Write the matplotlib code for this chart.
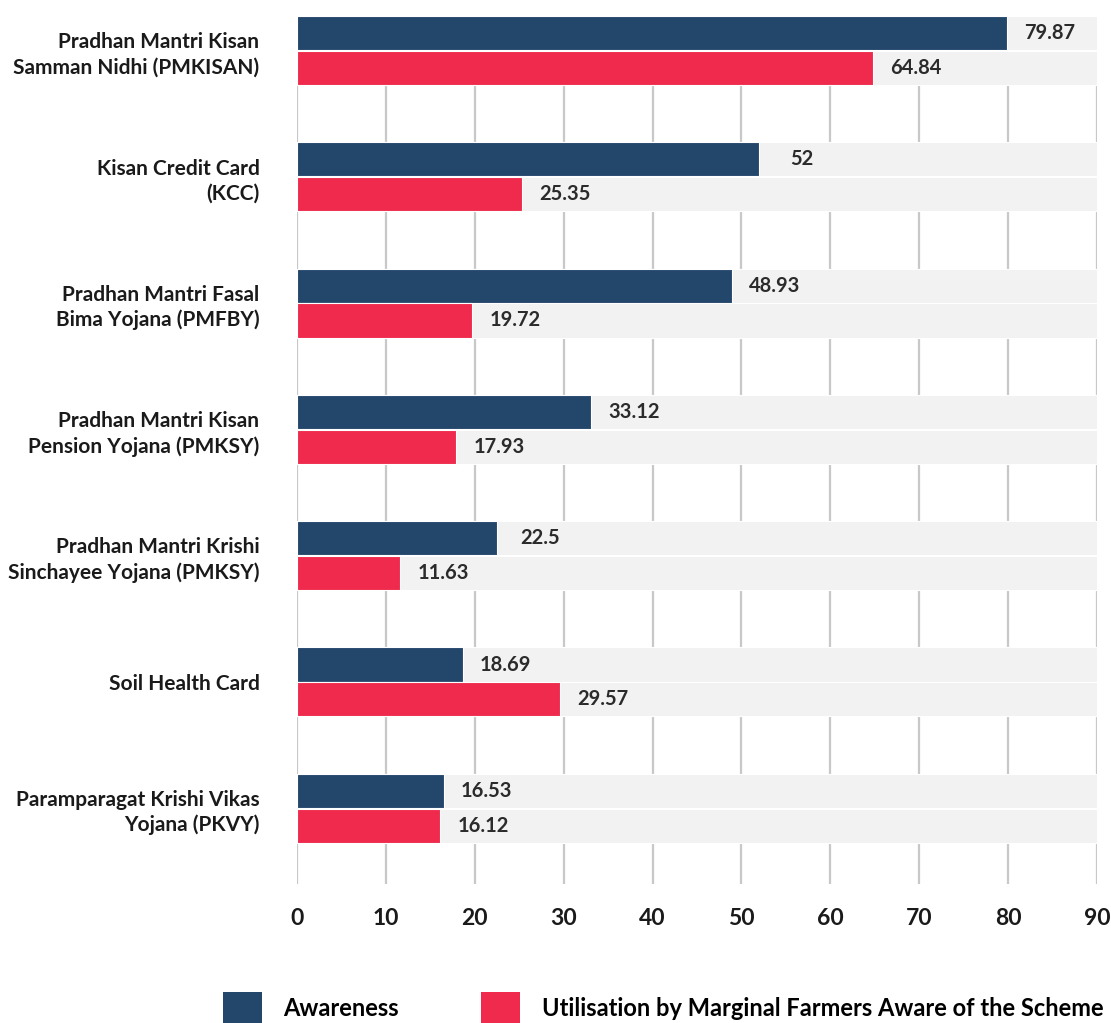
import matplotlib
matplotlib.use("Agg")
import matplotlib.pyplot as plt
import numpy as np
from matplotlib.patches import Patch

plt.rcParams['font.family'] = ['Lato', 'DejaVu Sans']
plt.rcParams['font.weight'] = 'bold'

schemes = ["Pradhan Mantri Kisan\nSamman Nidhi (PMKISAN)",
           "Kisan Credit Card\n(KCC)",
           "Pradhan Mantri Fasal\nBima Yojana (PMFBY)",
           "Pradhan Mantri Kisan\nPension Yojana (PMKSY)",
           "Pradhan Mantri Krishi\nSinchayee Yojana (PMKSY)",
           "Soil Health Card",
           "Paramparagat Krishi Vikas\nYojana (PKVY)"]
awareness = [79.87, 52, 48.93, 33.12, 22.5, 18.69, 16.53]
utilisation = [64.84, 25.35, 19.72, 17.93, 11.63, 29.57, 16.12]
awareness_lbl = ["79.87", "52", "48.93", "33.12", "22.5", "18.69", "16.53"]
utilisation_lbl = ["64.84", "25.35", "19.72", "17.93", "11.63", "29.57", "16.12"]
xmax = 90

navy = "#23466b"
red = "#ef2a4d"
bg = "#f2f2f2"

fig = plt.figure(figsize=(11.11, 10.23), dpi=100)
ax = fig.add_axes([297/1111, 1-884/1023, 800/1111, 868/1023])

y = np.arange(len(schemes))
h = 0.27
off = 0.138

# gray track behind each bar
ax.barh(y - off, [xmax]*len(y), height=h, color=bg, edgecolor='white', linewidth=0.8, zorder=2)
ax.barh(y + off, [xmax]*len(y), height=h, color=bg, edgecolor='white', linewidth=0.8, zorder=2)
ax.barh(y - off, awareness, height=h, color=navy, edgecolor='white', linewidth=0.8, zorder=3)
ax.barh(y + off, utilisation, height=h, color=red, edgecolor='white', linewidth=0.8, zorder=3)

for i in range(len(y)):
    ax.text(awareness[i] + 4.8, y[i] - off, awareness_lbl[i], ha='center', va='center',
            fontsize=14.5, fontweight='bold', color='#2b2b2b', zorder=4)
    ax.text(utilisation[i] + 4.8, y[i] + off, utilisation_lbl[i], ha='center', va='center',
            fontsize=14.5, fontweight='bold', color='#2b2b2b', zorder=4)

ax.set_xlim(0, xmax)
ax.set_ylim(6.6, -0.273)
ax.set_xticks(np.arange(0, 91, 10))
ax.set_yticks(y)
ax.set_yticklabels(schemes, fontsize=15, fontweight='bold', color='#1a1a1a',
                   multialignment='right', linespacing=1.3)
ax.tick_params(axis='x', length=0, pad=17, labelsize=16.5, labelcolor='#1a1a1a')
ax.tick_params(axis='y', length=0, pad=27)
for s in ax.spines.values():
    s.set_visible(False)
ax.xaxis.grid(True, color='#c8c8c8', linewidth=1.6, zorder=1)
ax.set_axisbelow(True)

handles = [Patch(facecolor=navy), Patch(facecolor=red)]
fig.legend(handles, ["Awareness", "Utilisation by Marginal Farmers Aware of the Scheme"],
           loc='center left', bbox_to_anchor=(223/1111, 1-1008/1023), ncol=2,
           frameon=False, fontsize=17, handlelength=1.65, handleheight=1.65,
           handletextpad=0.9, columnspacing=3.5, borderpad=0, borderaxespad=0)

fig.savefig("out.png", dpi=100)
